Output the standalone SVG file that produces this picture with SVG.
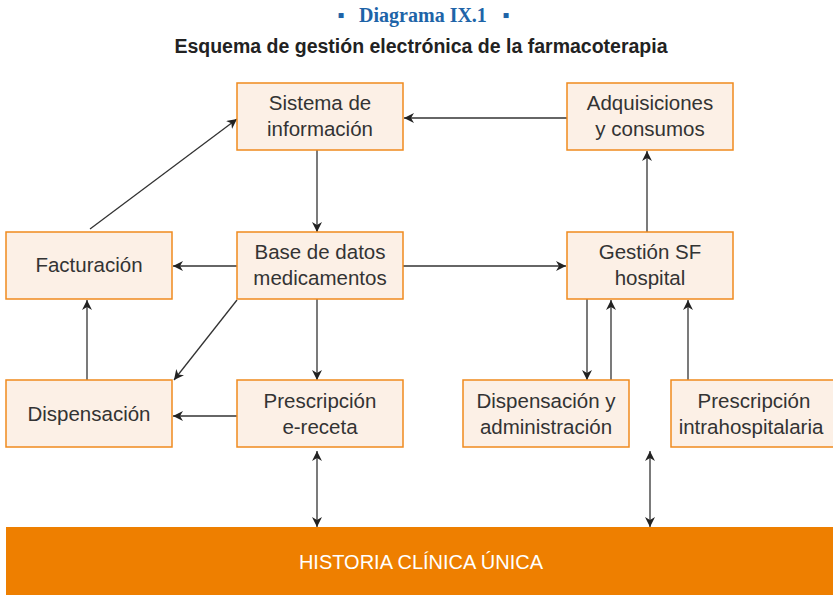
<svg xmlns="http://www.w3.org/2000/svg" width="833" height="595" viewBox="0 0 833 595">
<defs>
<marker id="ah" viewBox="0 0 10 10" refX="10" refY="5" markerWidth="10" markerHeight="10" markerUnits="userSpaceOnUse" orient="auto-start-reverse">
<path d="M0,0 L10,5 L0,10 L3,5 Z" fill="#222"/>
</marker>
<style>
.box{fill:#FCF0E6;stroke:#F08A1E;stroke-width:1.5}
.t{font-family:"Liberation Sans",Arial,sans-serif;font-size:20.5px;fill:#333;text-anchor:middle}
.c{stroke:#333;stroke-width:1.3;fill:none;marker-end:url(#ah)}
.d{marker-start:url(#ah)}
.ti{font-family:"Liberation Serif",serif;font-weight:bold;font-size:20px;fill:#1E64A8;text-anchor:middle}
</style>
</defs>
<rect width="833" height="595" fill="#fff"/>
<g id="title">
<text class="ti" x="341" y="22">▪</text>
<text class="ti" x="423" y="22">Diagrama IX.1</text>
<text class="ti" x="506" y="22">▪</text>
<text x="421" y="53" text-anchor="middle" font-family="Liberation Sans,Arial,sans-serif" font-weight="bold" font-size="19.5" fill="#222">Esquema de gestión electrónica de la farmacoterapia</text>
</g>
<g id="connectors">
<line class="c" x1="317" y1="150" x2="317" y2="232"/>
<line class="c" x1="567" y1="118" x2="404" y2="118"/>
<line class="c" x1="90" y1="229" x2="237" y2="119"/>
<line class="c" x1="237" y1="266" x2="173" y2="266"/>
<line class="c" x1="403" y1="266" x2="566" y2="266"/>
<line class="c" x1="647" y1="232" x2="647" y2="151"/>
<line class="c" x1="237" y1="300" x2="174" y2="380"/>
<line class="c" x1="317" y1="299" x2="317" y2="380"/>
<line class="c" x1="87" y1="380" x2="87" y2="300"/>
<line class="c" x1="237" y1="416" x2="173" y2="416"/>
<line class="c" x1="587" y1="299" x2="587" y2="380"/>
<line class="c" x1="611" y1="380" x2="611" y2="300"/>
<line class="c" x1="688" y1="380" x2="688" y2="300"/>
<line class="c d" x1="317" y1="451" x2="317" y2="527"/>
<line class="c d" x1="650" y1="451" x2="650" y2="527"/>
</g>
<g id="sistema"><rect class="box" x="237" y="83" width="166" height="67"/><text class="t" x="320" y="110">Sistema de</text><text class="t" x="320" y="136">información</text></g>
<g id="adquisiciones"><rect class="box" x="567" y="83" width="166" height="67"/><text class="t" x="650" y="110">Adquisiciones</text><text class="t" x="650" y="136">y consumos</text></g>
<g id="facturacion"><rect class="box" x="6" y="232" width="166" height="67"/><text class="t" x="89" y="272">Facturación</text></g>
<g id="base"><rect class="box" x="237" y="232" width="166" height="67"/><text class="t" x="320" y="259">Base de datos</text><text class="t" x="320" y="285">medicamentos</text></g>
<g id="gestion"><rect class="box" x="567" y="232" width="166" height="67"/><text class="t" x="650" y="259">Gestión SF</text><text class="t" x="650" y="285">hospital</text></g>
<g id="dispensacion"><rect class="box" x="6" y="380" width="166" height="67"/><text class="t" x="89" y="421">Dispensación</text></g>
<g id="prescripcion"><rect class="box" x="237" y="380" width="166" height="67"/><text class="t" x="320" y="408">Prescripción</text><text class="t" x="320" y="434">e-receta</text></g>
<g id="dispadm"><rect class="box" x="463" y="380" width="166" height="67"/><text class="t" x="546" y="408">Dispensación y</text><text class="t" x="546" y="434">administración</text></g>
<g id="prescintra"><rect class="box" x="671" y="380" width="168" height="67"/><text class="t" x="754" y="408">Prescripción</text><text class="t" x="751" y="434">intrahospitalaria</text></g>
<g id="historia"><rect x="6" y="527" width="830" height="70" fill="#EE7F00"/><text x="421" y="569" text-anchor="middle" font-family="Liberation Sans Narrow,Liberation Sans,Arial,sans-serif" font-size="20" fill="#fff">HISTORIA CLÍNICA ÚNICA</text></g>
</svg>
